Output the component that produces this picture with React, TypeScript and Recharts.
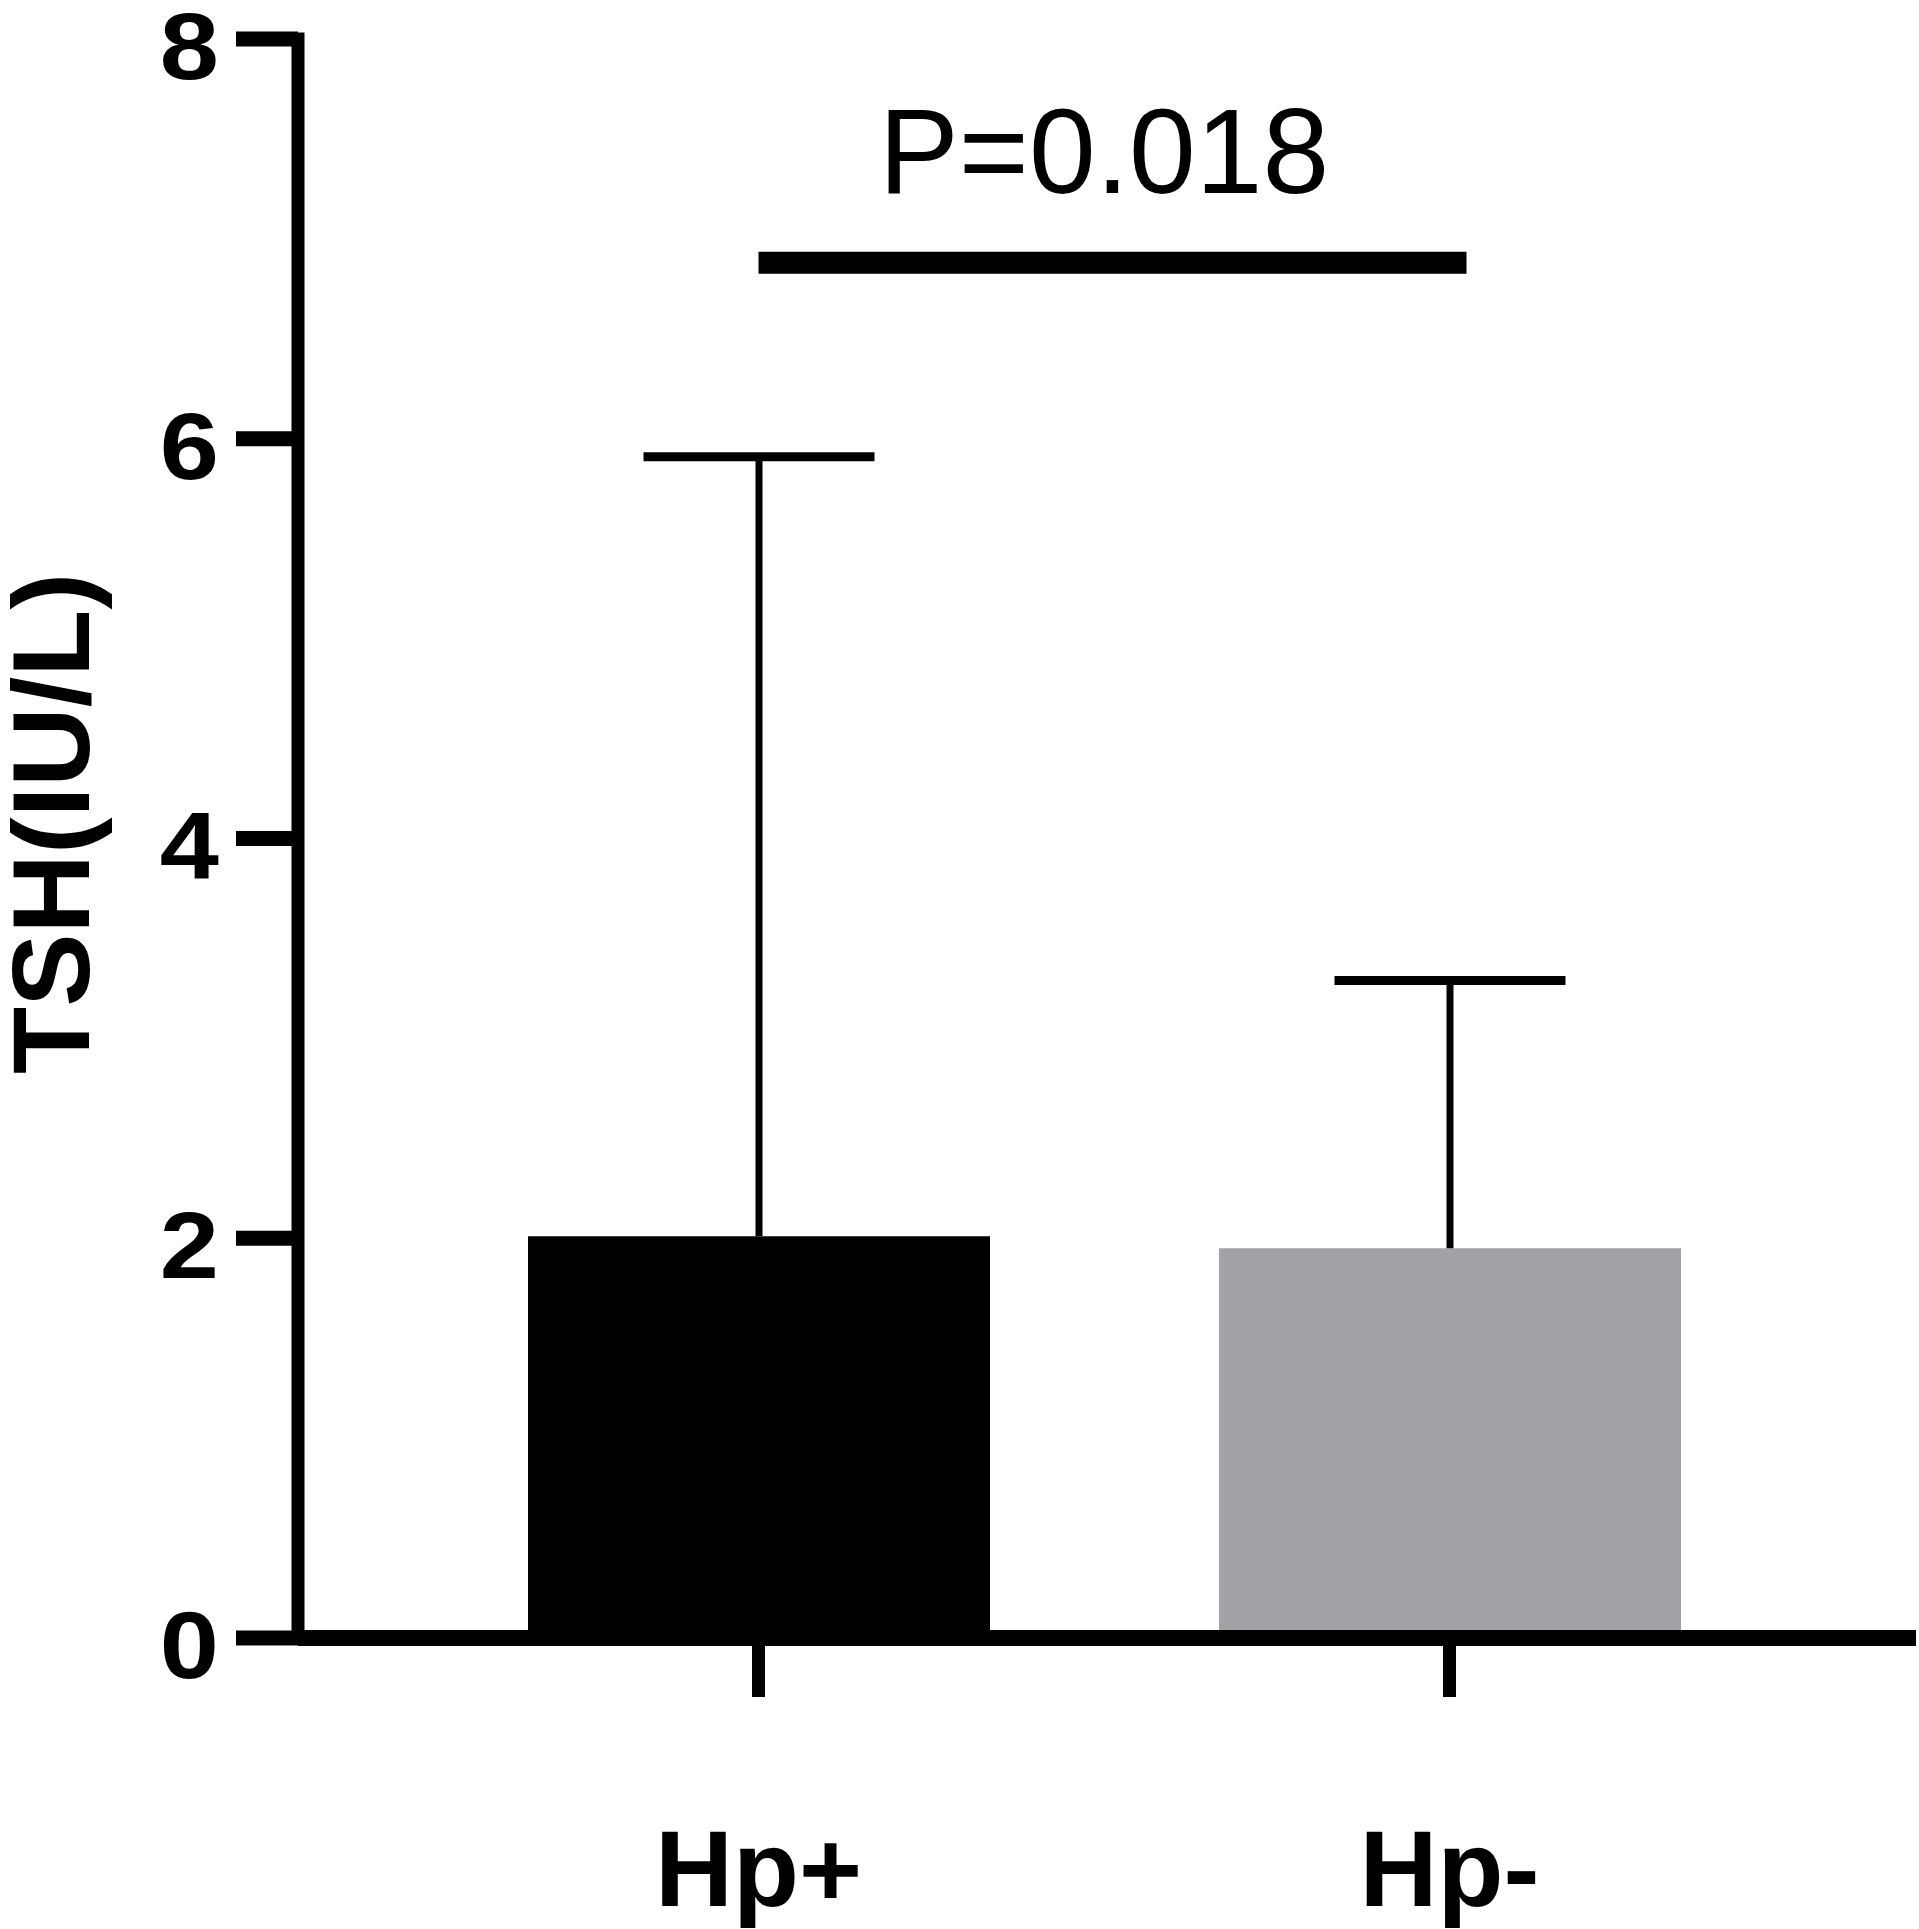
import React from 'react';
import { ComposedChart, Bar, XAxis, YAxis, Cell, ReferenceLine, Label } from 'recharts';

const groups = ['Hp+', 'Hp-'];
const means = [2.01, 1.95];
const sds = [3.9, 1.34];
const barColors = ['#000000', '#a2a1a6'];
const yTicks = [0, 2, 4, 6, 8];
const pText = 'P=0.018';
const sigLevel = 6.88;

const data = groups.map((name, i) => ({ name, mean: means[i], sd: sds[i] }));

const font = 'Liberation Sans, Arial, sans-serif';

// whisker drawn upward from the bar top, cap on top only
const Whisker = (props: any) => {
  const { x, y, width, height } = props;
  const cx = x + width / 2;
  return (
    <g>
      <line x1={cx} y1={y + height} x2={cx} y2={y} stroke="#000" strokeWidth={7} />
      <line x1={cx - width / 4} y1={y} x2={cx + width / 4} y2={y} stroke="#000" strokeWidth={9} />
    </g>
  );
};

// the reference digits are a bit wider than Liberation Sans Bold
const YTick = (props: any) => {
  const { x, y, payload } = props;
  return (
    <g transform={`translate(${x},${y})`}>
      <text
        textAnchor="end"
        dy="0.42em"
        transform="scale(1.12,1)"
        fontFamily={font}
        fontWeight="bold"
        fontSize={95}
        fill="#000"
      >
        {payload.value}
      </text>
    </g>
  );
};

const YLabel = (props: any) => {
  const vb = props.viewBox;
  const x = vb.x + 89;
  const y = vb.y + vb.height / 2 - 15;
  return (
    <text
      x={x}
      y={y}
      transform={`rotate(-90, ${x}, ${y})`}
      textAnchor="middle"
      fontFamily={font}
      fontWeight="bold"
      fontSize={110}
      fill="#000"
    >
      TSH(IU/L)
    </text>
  );
};

const SigLine = (props: any) => {
  const { x1, y1, x2 } = props;
  return <line x1={x1} y1={y1} x2={x2 + 17} y2={y1} stroke="#000" strokeWidth={22} />;
};

const App = () => {
  return (
    <div style={{ position: 'absolute', left: 0, top: 0, background: '#fff' }}>
      <ComposedChart
        width={1919}
        height={1929}
        data={data}
        margin={{ top: 39, right: 3, left: 0, bottom: 0 }}
      >
        <XAxis
          dataKey="name"
          interval={0}
          height={291}
          padding={{ left: 115, right: 121 }}
          axisLine={{ stroke: '#000', strokeWidth: 16 }}
          tickLine={{ stroke: '#000', strokeWidth: 13 }}
          tickSize={59}
          tickMargin={132}
          tick={{ fill: '#000', fontSize: 108, fontWeight: 'bold', fontFamily: font }}
        />
        <YAxis
          type="number"
          width={298}
          domain={[0, 8]}
          ticks={yTicks}
          interval={0}
          axisLine={{ stroke: '#000', strokeWidth: 13, strokeLinecap: 'square' }}
          tickLine={{ stroke: '#000', strokeWidth: 15 }}
          tickSize={62}
          tickMargin={17}
          tick={YTick}
        >
          <Label content={YLabel} />
        </YAxis>
        <Bar dataKey="mean" stackId="a" barSize={462} isAnimationActive={false}>
          {data.map((d, i) => (
            <Cell key={d.name} fill={barColors[i]} />
          ))}
        </Bar>
        <Bar dataKey="sd" stackId="a" barSize={462} shape={Whisker} isAnimationActive={false} />
        <ReferenceLine
          segment={[
            { x: groups[0], y: sigLevel },
            { x: groups[1], y: sigLevel },
          ]}
          shape={SigLine}
        >
          <Label
            value={pText}
            position="top"
            offset={70}
            fontSize={120}
            fontFamily={font}
            fill="#000"
          />
        </ReferenceLine>
      </ComposedChart>
    </div>
  );
};

export default App;
